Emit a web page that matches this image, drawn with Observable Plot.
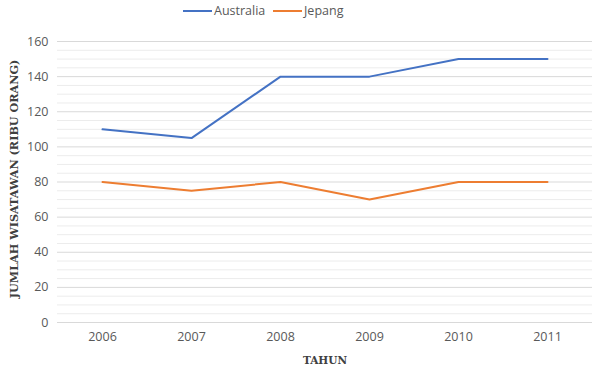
<!DOCTYPE html>
<html><head><meta charset="utf-8">
<script src="https://cdn.jsdelivr.net/npm/d3@7"></script>
<script src="https://cdn.jsdelivr.net/npm/@observablehq/plot@0.6"></script>
<style>
body{margin:0;background:#fff;font-family:"Open Sans","Noto Sans",sans-serif;}
#legend{position:relative;height:22px;width:600px;}
.li{position:absolute;top:2px;display:flex;align-items:center;font-size:12.5px;color:#595959;}
.sw{display:inline-block;width:29px;height:2px;margin-right:2px;}
</style></head>
<body>
<div id="legend"></div>
<div id="chart"></div>
<script>
const years = ["2006","2007","2008","2009","2010","2011"];
const australia = [110,105,140,140,150,150];
const jepang = [80,75,80,70,80,80];
const seriesNames = ["Australia","Jepang"];
const colors = ["#4472C4","#ED7D31"];

const data = [];
years.forEach((y,i)=>{ data.push({year:y, value:australia[i], s:"Australia"}); });
years.forEach((y,i)=>{ data.push({year:y, value:jepang[i], s:"Jepang"}); });

const minor = d3.range(0,161,5).filter(v=>v%20!==0);
const major = d3.range(0,161,20);

const chart = Plot.plot({
  width:600, height:361,
  marginTop:19, marginBottom:61, marginLeft:57, marginRight:8,
  style:{fontFamily:"'Open Sans','Noto Sans',sans-serif", fontSize:"12.5px", color:"#595959"},
  x:{type:"point", domain:years, padding:0.5, label:null, tickSize:0, tickPadding:10},
  y:{domain:[0,160], ticks:major, label:null, tickSize:0, tickPadding:9},
  color:{domain:seriesNames, range:colors},
  marks:[
    Plot.ruleY(minor,{stroke:"#ececec", strokeWidth:1}),
    Plot.ruleY(major,{stroke:"#d9d9d9", strokeWidth:1}),
    Plot.lineY(data,{x:"year", y:"value", stroke:"s", strokeWidth:2}),
    Plot.axisX({tickSize:0, tickPadding:10, fill:"#595959"}),
    Plot.axisY({ticks:major, tickSize:0, tickPadding:9, fill:"#595959"}),
    Plot.text(["TAHUN"],{frameAnchor:"bottom", dy:41, fontWeight:"bold", fontFamily:"'DejaVu Serif',serif", fontSize:10.5, fill:"#404040"}),
    Plot.text(["JUMLAH WISATAWAN (RIBU ORANG)"],{frameAnchor:"left", textAnchor:"middle", dx:-43, dy:-3, rotate:-90, fontWeight:"bold", fontFamily:"'DejaVu Serif',serif", fontSize:11.2, fill:"#404040"})
  ]
});
document.getElementById("chart").appendChild(chart);

const leg = document.getElementById("legend");
const pos = [183, 273];
seriesNames.forEach((n,i)=>{
  const d = document.createElement("div");
  d.className="li"; d.style.left=pos[i]+"px";
  d.innerHTML = `<span class="sw" style="background:${colors[i]}"></span><span>${n}</span>`;
  leg.appendChild(d);
});
</script>
</body></html>
